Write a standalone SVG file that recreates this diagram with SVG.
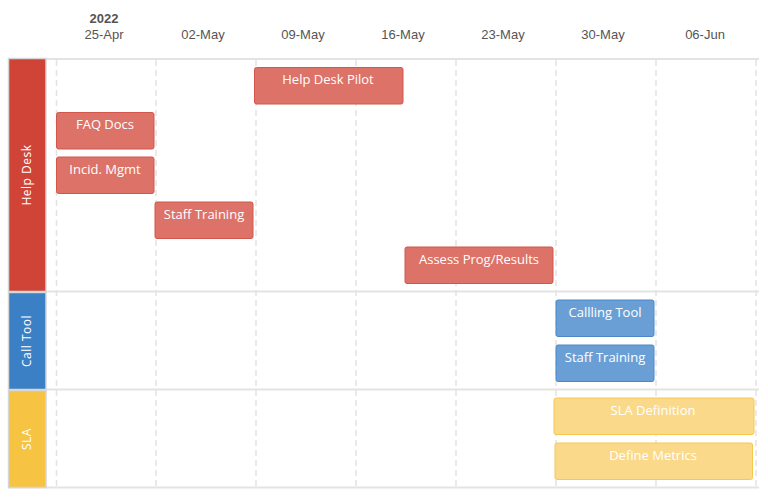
<svg xmlns="http://www.w3.org/2000/svg" width="768" height="498" viewBox="0 0 768 498">
<style>
.hdr{font-family:"Liberation Sans",Arial,sans-serif;font-size:13px;fill:#555;text-anchor:middle}
.yr{font-weight:bold}
.grid{stroke:#e3e3e3;stroke-width:1.5;stroke-dasharray:6,4}
.rowline{stroke:#e3e3e3;stroke-width:2}
.lbl{font-family:"Open Sans",sans-serif;font-size:12px;fill:#fff;text-anchor:middle;letter-spacing:0.5px}
.task text{font-family:"Open Sans",sans-serif;font-size:13px;fill:#fff;text-anchor:middle}
.r rect{fill:#dc7268;stroke:#d2564b;stroke-width:1}
.b rect{fill:#6a9fd6;stroke:#4c88c9;stroke-width:1}
.y rect{fill:#fad98b;stroke:#f6c84e;stroke-width:1}
</style>
<rect width="768" height="498" fill="#fff"/>
<g id="header">
<text class="hdr yr" x="104" y="23">2022</text>
<text class="hdr" x="104" y="39">25-Apr</text>
<text class="hdr" x="203" y="39">02-May</text>
<text class="hdr" x="303" y="39">09-May</text>
<text class="hdr" x="403" y="39">16-May</text>
<text class="hdr" x="503" y="39">23-May</text>
<text class="hdr" x="603" y="39">30-May</text>
<text class="hdr" x="705" y="39">06-Jun</text>
</g>
<g id="grid">
<line class="grid" x1="56.5" y1="60" x2="56.5" y2="487"/>
<line class="grid" x1="156" y1="60" x2="156" y2="487"/>
<line class="grid" x1="256" y1="60" x2="256" y2="487"/>
<line class="grid" x1="356" y1="60" x2="356" y2="487"/>
<line class="grid" x1="456" y1="60" x2="456" y2="487"/>
<line class="grid" x1="556" y1="60" x2="556" y2="487"/>
<line class="grid" x1="656" y1="60" x2="656" y2="487"/>
<line class="grid" x1="756" y1="60" x2="756" y2="487"/>
<line class="rowline" x1="46" y1="59" x2="759" y2="59"/>
<line class="rowline" x1="8" y1="291.5" x2="759" y2="291.5"/>
<line class="rowline" x1="8" y1="389.5" x2="759" y2="389.5"/>
<line class="rowline" x1="8" y1="487.5" x2="759" y2="487.5"/>
</g>
<g id="lane-helpdesk">
<rect x="8.5" y="58.5" width="37.5" height="233" fill="#d04437" stroke="#d6d6d6" stroke-width="1.5"/>
<text class="lbl" transform="translate(31,175) rotate(-90)">Help Desk</text>
</g>
<g id="lane-calltool">
<rect x="8.5" y="292.5" width="37.5" height="97" fill="#3b7fc4" stroke="#d6d6d6" stroke-width="1.5"/>
<text class="lbl" transform="translate(31,341) rotate(-90)">Call Tool</text>
</g>
<g id="lane-sla">
<rect x="8.5" y="390.5" width="37.5" height="97" fill="#f6c342" stroke="#d6d6d6" stroke-width="1.5"/>
<text class="lbl" transform="translate(31,439) rotate(-90)">SLA</text>
</g>
<g id="task-helpdesk-pilot" class="task r"><rect x="254.5" y="67.5" width="148.5" height="36.5" rx="2"/><text x="328" y="84">Help Desk Pilot</text></g>
<g id="task-faq-docs" class="task r"><rect x="56.5" y="112.5" width="97.5" height="36.5" rx="2"/><text x="105" y="129">FAQ Docs</text></g>
<g id="task-incid-mgmt" class="task r"><rect x="56.5" y="157" width="97.5" height="36.5" rx="2"/><text x="105" y="174">Incid. Mgmt</text></g>
<g id="task-staff-training-hd" class="task r"><rect x="155" y="202" width="98" height="36.5" rx="2"/><text x="204" y="219">Staff Training</text></g>
<g id="task-assess" class="task r"><rect x="405" y="247" width="148" height="36.5" rx="2"/><text x="479" y="264">Assess Prog/Results</text></g>
<g id="task-calling-tool" class="task b"><rect x="556" y="300" width="98" height="36.5" rx="2"/><text x="605" y="317">Callling Tool</text></g>
<g id="task-staff-training-ct" class="task b"><rect x="556" y="345" width="98" height="36.5" rx="2"/><text x="605" y="362">Staff Training</text></g>
<g id="task-sla-definition" class="task y"><rect x="554" y="398" width="200" height="36.5" rx="2"/><text x="653" y="415">SLA Definition</text></g>
<g id="task-define-metrics" class="task y"><rect x="555" y="443" width="197.5" height="36.5" rx="2"/><text x="653" y="460">Define Metrics</text></g>
</svg>
